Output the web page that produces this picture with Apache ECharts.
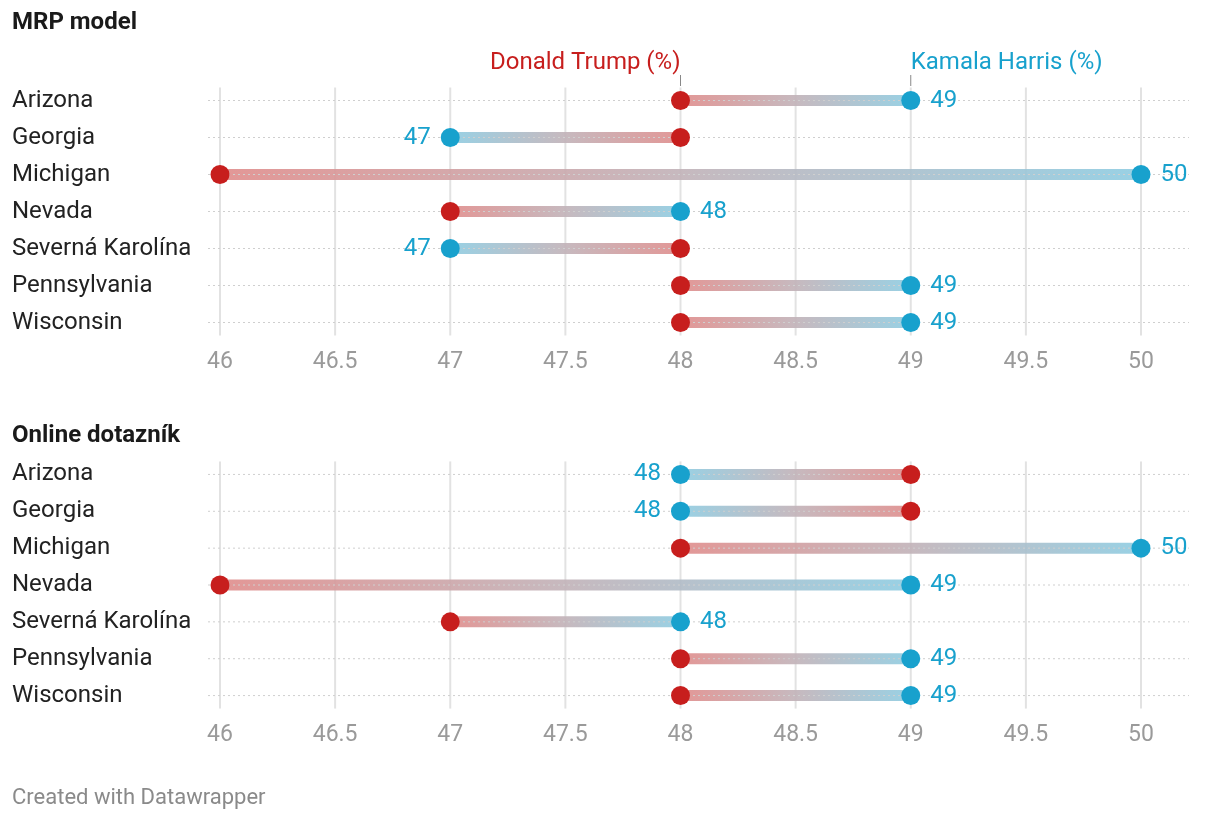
<!DOCTYPE html>
<html>
<head>
<meta charset="utf-8">
<script src="https://cdn.jsdelivr.net/npm/echarts@6/dist/echarts.min.js"></script>
<style>
html,body{margin:0;padding:0;background:#fff;}
#chart{width:1220px;height:822px;}
</style>
</head>
<body>
<div id="chart"></div>
<script>
const categories = ['Arizona','Georgia','Michigan','Nevada','Severná Karolína','Pennsylvania','Wisconsin'];
const mrpTrump = [48,48,46,47,48,48,48];
const mrpHarris = [49,47,50,48,47,49,49];
const onlineTrump = [49,49,48,46,47,48,48];
const onlineHarris = [48,48,50,49,48,49,49];
const xTicks = [46,46.5,47,47.5,48,48.5,49,49.5,50];
const panelTitles = ['MRP model','Online dotazník'];
const legendTrump = 'Donald Trump (%)';
const legendHarris = 'Kamala Harris (%)';
const footer = 'Created with Datawrapper';

const FONT = 'Roboto, "Noto Sans", sans-serif';
const RED = '#c71e1d';
const BLUE = '#18a1cd';

const chart = echarts.init(document.getElementById('chart'), null, {renderer:'canvas'});

const grids = [
  {left:220, right:79, top:82, height:259},
  {left:220, right:79, top:456, height:258}
];

function xAxisCfg(i){
  return {
    type:'value', gridIndex:i, min:46, max:50, interval:0.5,
    axisLine:{show:false}, axisTick:{show:false}, splitLine:{show:false},
    axisLabel:{color:'#9a9a9a', fontSize:23, fontFamily:FONT, margin:10}
  };
}
function yAxisCfg(i){
  return {
    type:'category', gridIndex:i, data:categories, inverse:true,
    axisLine:{show:false}, axisTick:{show:false}, splitLine:{show:false},
    axisLabel:{color:'#222', fontSize:24, fontFamily:FONT, align:'left', margin:208}
  };
}

function panelSeries(i, trump, harris){
  const idx = categories.map((c,k)=>k);
  return [
    // vertical gridlines
    {
      type:'custom', xAxisIndex:i, yAxisIndex:i, silent:true, z:1,
      data: xTicks.map(v=>[v,0]),
      encode:{x:0,y:1},
      renderItem:function(params, api){
        const v = api.value(0);
        const top = api.coord([v,0]);
        const bot = api.coord([v,categories.length-1]);
        return {type:'line', shape:{x1:top[0], y1:top[1]-13, x2:top[0], y2:bot[1]+13},
          style:{stroke:'#e2e2e2', lineWidth:2}};
      }
    },
    // dumbbell bars
    {
      type:'custom', xAxisIndex:i, yAxisIndex:i, silent:true, z:2,
      data: idx.map(k=>[trump[k], harris[k], k]),
      encode:{x:[0,1], y:2},
      renderItem:function(params, api){
        const p1 = api.coord([api.value(0), api.value(2)]);
        const p2 = api.coord([api.value(1), api.value(2)]);
        return {type:'line', shape:{x1:p1[0], y1:p1[1], x2:p2[0], y2:p2[1]},
          style:{lineWidth:11, opacity:0.92,
            stroke:new echarts.graphic.LinearGradient(p1[0],0,p2[0],0,[
              {offset:0,color:'#e08e8d'},
              {offset:0.5,color:'#c2b3b9'},
              {offset:1,color:'#90cde2'}], true)}};
      }
    },
    // dotted row guides
    {
      type:'custom', xAxisIndex:i, yAxisIndex:i, silent:true, z:3,
      data: idx.map(k=>[46,k]),
      encode:{x:0,y:1},
      renderItem:function(params, api){
        const p = api.coord([46, api.value(1)]);
        const cs = params.coordSys;
        return {type:'line', shape:{x1:cs.x-12, y1:p[1], x2:cs.x+cs.width+48, y2:p[1]},
          style:{stroke:'#cfcfcf', lineWidth:1, lineDash:[2,3]}};
      }
    },
    // Trump dots
    {
      type:'scatter', xAxisIndex:i, yAxisIndex:i, z:4, symbolSize:19,
      itemStyle:{color:RED, opacity:1},
      data: idx.map(k=>[trump[k], k])
    },
    // Harris dots
    {
      type:'scatter', xAxisIndex:i, yAxisIndex:i, z:5, symbolSize:19,
      itemStyle:{color:BLUE, opacity:1},
      data: idx.map(k=>({
        value:[harris[k], k],
        label:{show:true, position: harris[k] < trump[k] ? 'left' : 'right', distance:10,
          formatter: String(harris[k]), color:BLUE, fontSize:24, fontFamily:FONT}
      }))
    }
  ];
}

chart.setOption({
  animation:false,
  backgroundColor:'#fff',
  grid:grids,
  xAxis:[xAxisCfg(0), xAxisCfg(1)],
  yAxis:[yAxisCfg(0), yAxisCfg(1)],
  series:[].concat(panelSeries(0, mrpTrump, mrpHarris), panelSeries(1, onlineTrump, onlineHarris))
});

const pT = chart.convertToPixel({gridIndex:0}, [mrpTrump[0], 0]);
const pH = chart.convertToPixel({gridIndex:0}, [mrpHarris[0], 0]);

chart.setOption({
  graphic:[
    {type:'text', left:12, top:11, style:{text:panelTitles[0], font:'bold 24px '+FONT, fill:'#1a1a1a'}},
    {type:'text', left:12, top:424, style:{text:panelTitles[1], font:'bold 24px '+FONT, fill:'#1a1a1a'}},
    {type:'text', x:pT[0], y:63, style:{text:legendTrump, font:'24px '+FONT, fill:RED, align:'right', verticalAlign:'middle'}},
    {type:'text', x:pH[0], y:63, style:{text:legendHarris, font:'24px '+FONT, fill:BLUE, align:'left', verticalAlign:'middle'}},
    {type:'line', shape:{x1:pT[0], y1:75, x2:pT[0], y2:86}, style:{stroke:'#888', lineWidth:1}},
    {type:'line', shape:{x1:pH[0], y1:75, x2:pH[0], y2:86}, style:{stroke:'#888', lineWidth:1}},
    {type:'text', left:12, top:787, style:{text:footer, font:'22px '+FONT, fill:'#8a8a8a'}}
  ]
});
</script>
</body>
</html>
